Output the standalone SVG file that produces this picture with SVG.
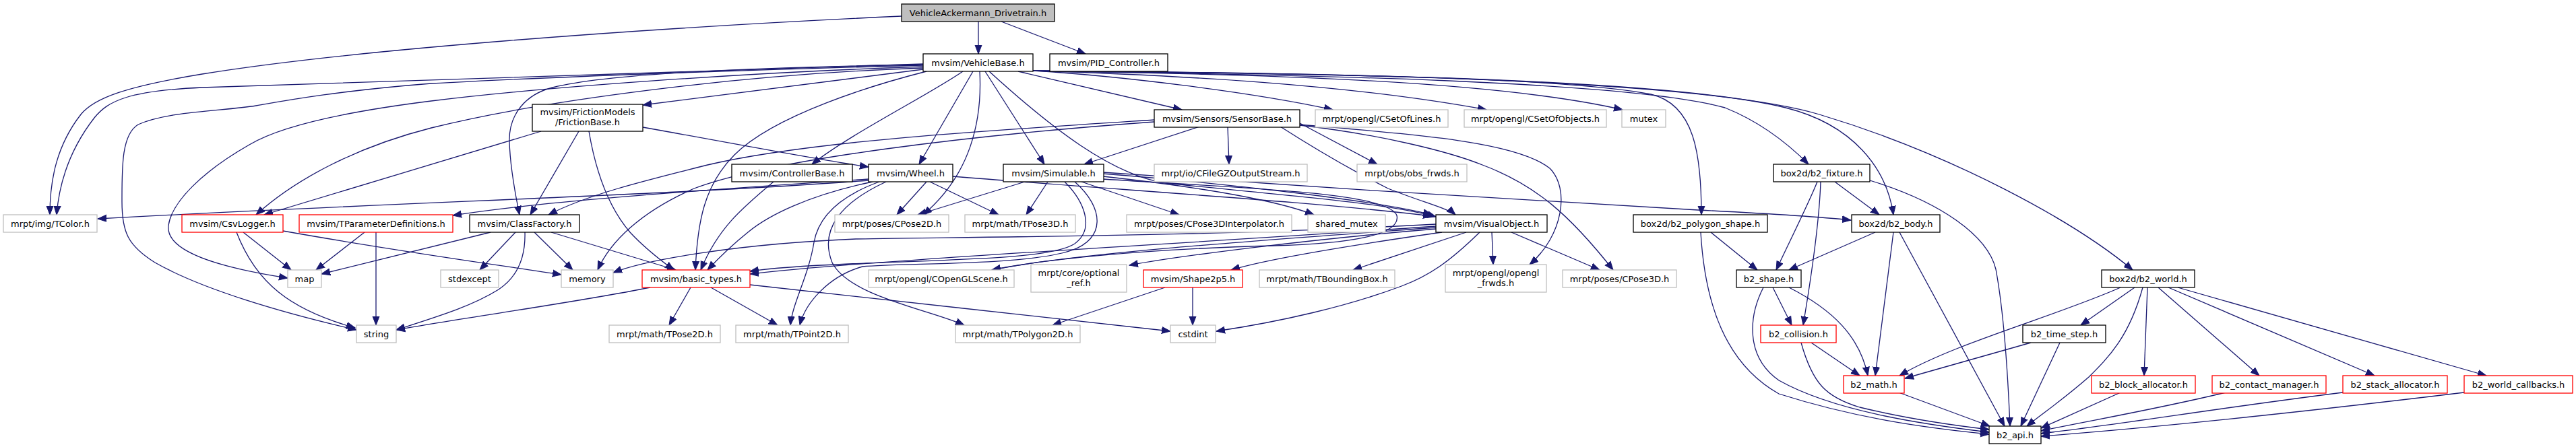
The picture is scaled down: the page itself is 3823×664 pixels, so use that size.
<svg xmlns="http://www.w3.org/2000/svg" width="3823" height="664" viewBox="0 0 3823 664">
<style>
rect{fill:#fff;stroke-width:1.3}
.g rect{stroke:#bfbfbf}
.k rect{stroke:#000}
.r rect{stroke:#ff0000}
.root rect{fill:#bfbfbf;stroke:#000}
text{font-family:"DejaVu Sans",sans-serif;font-size:13px;text-anchor:middle;fill:#000}
#edges path{fill:none;stroke:#191970;stroke-width:1.3;marker-end:url(#a)}
</style>
<defs>
<marker id="a" markerUnits="userSpaceOnUse" markerWidth="14" markerHeight="12" viewBox="0 0 14 12" refX="13" refY="6" orient="auto">
<path d="M0,1 L13,6 L0,11 z" fill="#191970" stroke="#191970"/>
</marker>
</defs>
<rect x="0" y="0" width="3823" height="664" style="fill:#fff;stroke:none"/>
<g id="edges">
<path d="M1452,32 L1452,80"/>
<path d="M1486,32 L1611,80"/>
<path d="M1338,24 C950,42 520,74 300,110 C190,128 140,145 120,170 C85,215 74,265 74,319"/>
<path d="M1370,95 C1100,105 700,114 300,130 C190,135 160,150 140,175 C105,220 88,270 84,319"/>
<path d="M1370,97 C1100,104 800,115 640,124 C500,135 420,150 380,157 C330,165 250,165 205,185 C180,200 181,250 181,300 C181,345 190,365 230,390 C300,430 420,465 529,490"/>
<path d="M1370,99 C1100,108 800,130 640,150 C520,165 420,185 370,215 C300,255 255,300 250,335 C245,375 330,398 427,413"/>
<path d="M1370,101 C1100,110 800,150 640,190 C530,218 440,265 380,319"/>
<path d="M1370,96 C1100,100 900,110 820,130 C780,140 755,170 756,210 C757,250 765,290 771,319"/>
<path d="M1370,103 L954,156"/>
<path d="M1375,106 C1300,125 1150,170 1090,230 C1045,275 1035,330 1032,401"/>
<path d="M1429,106 C1380,140 1260,200 1205,244"/>
<path d="M1444,106 L1364,244"/>
<path d="M1454,106 C1458,180 1440,260 1370,319"/>
<path d="M1462,106 L1550,244"/>
<path d="M1468,106 C1560,190 1650,260 1730,272 C1900,290 2050,300 2131,322"/>
<path d="M1511,106 L1754,163"/>
<path d="M1533,105 C1650,112 1850,135 1978,163"/>
<path d="M1533,105 C1750,112 2000,125 2206,163"/>
<path d="M1533,105 C1800,110 2200,115 2408,163"/>
<path d="M1533,105 C1800,109 2300,110 2450,140 C2515,155 2525,230 2525,319"/>
<path d="M1533,105 C1800,110 2400,115 2560,160 C2610,180 2650,210 2684,244"/>
<path d="M1533,105 C1800,108 2450,110 2650,160 C2750,185 2800,250 2810,319"/>
<path d="M1533,105 C1800,108 2500,110 2700,170 C2900,230 3080,330 3165,401"/>
<path d="M859,195 L787,319"/>
<path d="M874,195 C885,260 905,310 935,345 C960,372 985,390 1000,401"/>
<path d="M954,189 C1100,215 1200,235 1289,248"/>
<path d="M803,195 L392,319"/>
<path d="M1713,178 C1450,195 1200,210 1050,245 C950,270 870,290 814,319"/>
<path d="M1713,181 C1450,200 1150,235 1030,280 C950,315 905,360 887,401"/>
<path d="M1780,188 L1609,244"/>
<path d="M1822,188 L1824,244"/>
<path d="M1929,183 L2044,244"/>
<path d="M1929,185 C2100,200 2250,210 2300,250 C2330,280 2320,350 2270,393"/>
<path d="M1929,186 C2050,200 2150,225 2200,245 C2280,275 2330,320 2394,401"/>
<path d="M1900,188 C1950,220 2000,250 2060,280 C2110,300 2150,310 2160,319"/>
<path d="M1289,268 C1000,290 600,300 145,325"/>
<path d="M1289,266 C1000,285 800,300 672,320"/>
<path d="M1295,270 C1200,290 1140,320 1110,345 C1085,365 1065,385 1050,401"/>
<path d="M1305,270 C1250,290 1215,320 1208,360 C1200,410 1176,450 1173,483"/>
<path d="M1315,270 C1250,300 1215,340 1235,390 C1260,440 1380,460 1431,483"/>
<path d="M1375,270 L1331,319"/>
<path d="M1380,270 L1482,319"/>
<path d="M1414,262 C1700,285 1950,300 2125,321"/>
<path d="M1521,270 L1362,319"/>
<path d="M1555,270 L1523,319"/>
<path d="M1605,270 L1750,319"/>
<path d="M1580,270 C1610,300 1625,340 1595,362 C1560,385 1420,385 1260,392 C1190,395 1140,399 1113,403"/>
<path d="M1595,270 C1640,310 1640,355 1590,372 C1520,395 1350,390 1280,396 C1230,410 1195,450 1187,483"/>
<path d="M1637,262 C1800,280 1900,300 1950,319"/>
<path d="M1637,258 C1850,275 2050,300 2125,319"/>
<path d="M1637,256 C1900,275 2300,300 2520,312 C2600,316 2680,320 2747,327"/>
<path d="M1637,266 C1850,280 2060,285 2073,320 C2080,350 2000,362 1890,365 C1700,370 1550,385 1472,401"/>
<path d="M2131,336 C1800,360 1300,385 1113,407"/>
<path d="M2131,338 C1900,355 1600,375 1472,401"/>
<path d="M2131,340 C1950,355 1750,380 1676,394"/>
<path d="M2140,345 C2000,365 1880,385 1827,401"/>
<path d="M2176,345 L2008,401"/>
<path d="M2214,345 L2216,393"/>
<path d="M2243,345 L2374,401"/>
<path d="M2196,345 C2150,390 2120,410 2080,425 C2000,455 1900,478 1805,492"/>
<path d="M2131,333 C1800,352 1400,352 1270,355 C1100,362 960,385 910,405"/>
<path d="M965,427 C850,450 700,470 588,490"/>
<path d="M1025,427 L993,483"/>
<path d="M1055,427 L1154,483"/>
<path d="M1113,423 C1300,445 1550,470 1737,492"/>
<path d="M728,345 L477,407"/>
<path d="M765,345 L712,401"/>
<path d="M793,345 L850,401"/>
<path d="M818,345 L1003,401"/>
<path d="M779,345 C780,380 770,410 740,430 C700,455 650,470 588,490"/>
<path d="M351,345 C380,420 430,460 527,487"/>
<path d="M361,345 L432,401"/>
<path d="M420,343 C600,375 750,395 833,408"/>
<path d="M541,345 L469,401"/>
<path d="M558,345 L558,483"/>
<path d="M1729,427 L1562,483"/>
<path d="M1770,427 L1770,483"/>
<path d="M1148,270 C1100,310 1065,340 1040,401"/>
<path d="M2697,270 C2685,300 2665,340 2636,401"/>
<path d="M2702,270 C2700,330 2690,400 2676,483"/>
<path d="M2723,270 L2789,319"/>
<path d="M2775,268 C2880,300 2950,350 2962,400 C2975,470 2980,560 2983,633"/>
<path d="M2539,345 L2608,401"/>
<path d="M2524,345 C2530,450 2560,540 2640,585 C2750,620 2850,635 2952,645"/>
<path d="M2783,345 L2655,401"/>
<path d="M2810,345 L2783,558"/>
<path d="M2819,345 L2975,633"/>
<path d="M2631,427 L2659,483"/>
<path d="M2655,427 C2720,460 2760,500 2772,558"/>
<path d="M2617,427 C2595,470 2590,530 2640,565 C2720,610 2850,630 2952,642"/>
<path d="M2688,509 L2760,558"/>
<path d="M2673,509 C2690,570 2710,590 2760,605 C2830,622 2900,632 2952,638"/>
<path d="M2818,583 L2953,633"/>
<path d="M3014,509 L2827,562"/>
<path d="M3057,509 L2999,633"/>
<path d="M3147,427 C3050,470 2900,510 2819,558"/>
<path d="M3168,427 L3088,483"/>
<path d="M3180,427 C3160,500 3130,530 3100,560 C3060,595 3030,615 3008,633"/>
<path d="M3187,427 L3182,558"/>
<path d="M3203,427 L3353,558"/>
<path d="M3218,427 L3524,558"/>
<path d="M3232,427 L3690,558"/>
<path d="M3147,583 L3029,636"/>
<path d="M3303,583 C3200,608 3100,625 3029,640"/>
<path d="M3477,583 C3300,605 3150,630 3029,644"/>
<path d="M3657,583 C3450,608 3200,635 3029,648"/>
</g>
<g id="n0" class="root"><rect x="1338" y="6" width="227" height="26"/><text x="1451.5" y="23.5">VehicleAckermann_Drivetrain.h</text></g>
<g id="n1" class="k"><rect x="1370" y="80" width="163" height="26"/><text x="1451.5" y="97.5">mvsim/VehicleBase.h</text></g>
<g id="n2" class="k"><rect x="1558" y="80" width="175" height="26"/><text x="1645.5" y="97.5">mvsim/PID_Controller.h</text></g>
<g id="n3" class="k"><rect x="790" y="155" width="164" height="40"/><text x="872" y="171">mvsim/FrictionModels</text><text x="872" y="186">/FrictionBase.h</text></g>
<g id="n4" class="k"><rect x="1713" y="163" width="216" height="26"/><text x="1821" y="180.5">mvsim/Sensors/SensorBase.h</text></g>
<g id="n5" class="g"><rect x="1952" y="163" width="197" height="26"/><text x="2050.5" y="180.5">mrpt/opengl/CSetOfLines.h</text></g>
<g id="n6" class="g"><rect x="2173" y="163" width="211" height="26"/><text x="2278.5" y="180.5">mrpt/opengl/CSetOfObjects.h</text></g>
<g id="n7" class="g"><rect x="2407" y="163" width="65" height="26"/><text x="2439.5" y="180.5">mutex</text></g>
<g id="n8" class="k"><rect x="1086" y="244" width="179" height="26"/><text x="1175.5" y="261.5">mvsim/ControllerBase.h</text></g>
<g id="n9" class="k"><rect x="1289" y="244" width="125" height="26"/><text x="1351.5" y="261.5">mvsim/Wheel.h</text></g>
<g id="n10" class="k"><rect x="1489" y="244" width="149" height="26"/><text x="1563.5" y="261.5">mvsim/Simulable.h</text></g>
<g id="n11" class="g"><rect x="1713" y="244" width="227" height="26"/><text x="1826.5" y="261.5">mrpt/io/CFileGZOutputStream.h</text></g>
<g id="n12" class="g"><rect x="2014" y="244" width="163" height="26"/><text x="2095.5" y="261.5">mrpt/obs/obs_frwds.h</text></g>
<g id="n13" class="k"><rect x="2632" y="244" width="143" height="26"/><text x="2703.5" y="261.5">box2d/b2_fixture.h</text></g>
<g id="n14" class="g"><rect x="5" y="319" width="139" height="26"/><text x="74.5" y="336.5">mrpt/img/TColor.h</text></g>
<g id="n15" class="r"><rect x="270" y="319" width="150" height="26"/><text x="345" y="336.5">mvsim/CsvLogger.h</text></g>
<g id="n16" class="r"><rect x="444" y="319" width="228" height="26"/><text x="558" y="336.5">mvsim/TParameterDefinitions.h</text></g>
<g id="n17" class="k"><rect x="697" y="319" width="163" height="26"/><text x="778.5" y="336.5">mvsim/ClassFactory.h</text></g>
<g id="n18" class="g"><rect x="1239" y="319" width="169" height="26"/><text x="1323.5" y="336.5">mrpt/poses/CPose2D.h</text></g>
<g id="n19" class="g"><rect x="1432" y="319" width="164" height="26"/><text x="1514" y="336.5">mrpt/math/TPose3D.h</text></g>
<g id="n20" class="g"><rect x="1672" y="319" width="245" height="26"/><text x="1794.5" y="336.5">mrpt/poses/CPose3DInterpolator.h</text></g>
<g id="n21" class="g"><rect x="1941" y="319" width="115" height="26"/><text x="1998.5" y="336.5">shared_mutex</text></g>
<g id="n22" class="k"><rect x="2131" y="319" width="165" height="26"/><text x="2213.5" y="336.5">mvsim/VisualObject.h</text></g>
<g id="n23" class="k"><rect x="2424" y="319" width="199" height="26"/><text x="2523.5" y="336.5">box2d/b2_polygon_shape.h</text></g>
<g id="n24" class="k"><rect x="2748" y="319" width="131" height="26"/><text x="2813.5" y="336.5">box2d/b2_body.h</text></g>
<g id="n25" class="g"><rect x="427" y="401" width="50" height="26"/><text x="452" y="418.5">map</text></g>
<g id="n26" class="g"><rect x="654" y="401" width="86" height="26"/><text x="697" y="418.5">stdexcept</text></g>
<g id="n27" class="g"><rect x="833" y="401" width="77" height="26"/><text x="871.5" y="418.5">memory</text></g>
<g id="n28" class="r"><rect x="953" y="401" width="160" height="26"/><text x="1033" y="418.5">mvsim/basic_types.h</text></g>
<g id="n29" class="g"><rect x="1289" y="401" width="216" height="26"/><text x="1397" y="418.5">mrpt/opengl/COpenGLScene.h</text></g>
<g id="n30" class="g"><rect x="1530" y="393" width="142" height="41"/><text x="1601" y="410">mrpt/core/optional</text><text x="1601" y="425">_ref.h</text></g>
<g id="n31" class="r"><rect x="1697" y="401" width="147" height="26"/><text x="1770.5" y="418.5">mvsim/Shape2p5.h</text></g>
<g id="n32" class="g"><rect x="1869" y="401" width="201" height="26"/><text x="1969.5" y="418.5">mrpt/math/TBoundingBox.h</text></g>
<g id="n33" class="g"><rect x="2145" y="393" width="150" height="41"/><text x="2220" y="410">mrpt/opengl/opengl</text><text x="2220" y="425">_frwds.h</text></g>
<g id="n34" class="g"><rect x="2319" y="401" width="169" height="26"/><text x="2403.5" y="418.5">mrpt/poses/CPose3D.h</text></g>
<g id="n35" class="k"><rect x="2577" y="401" width="96" height="26"/><text x="2625" y="418.5">b2_shape.h</text></g>
<g id="n36" class="k"><rect x="3119" y="401" width="138" height="26"/><text x="3188" y="418.5">box2d/b2_world.h</text></g>
<g id="n37" class="g"><rect x="904" y="483" width="165" height="26"/><text x="986.5" y="500.5">mrpt/math/TPose2D.h</text></g>
<g id="n38" class="g"><rect x="1092" y="483" width="167" height="26"/><text x="1175.5" y="500.5">mrpt/math/TPoint2D.h</text></g>
<g id="n39" class="g"><rect x="529" y="483" width="59" height="26"/><text x="558.5" y="500.5">string</text></g>
<g id="n40" class="g"><rect x="1418" y="483" width="185" height="26"/><text x="1510.5" y="500.5">mrpt/math/TPolygon2D.h</text></g>
<g id="n41" class="g"><rect x="1737" y="483" width="67" height="26"/><text x="1770.5" y="500.5">cstdint</text></g>
<g id="n42" class="r"><rect x="2613" y="483" width="112" height="26"/><text x="2669" y="500.5">b2_collision.h</text></g>
<g id="n43" class="k"><rect x="3002" y="483" width="123" height="26"/><text x="3063.5" y="500.5">b2_time_step.h</text></g>
<g id="n44" class="r"><rect x="2736" y="558" width="90" height="26"/><text x="2781" y="575.5">b2_math.h</text></g>
<g id="n45" class="r"><rect x="3104" y="558" width="154" height="26"/><text x="3181" y="575.5">b2_block_allocator.h</text></g>
<g id="n46" class="r"><rect x="3283" y="558" width="169" height="26"/><text x="3367.5" y="575.5">b2_contact_manager.h</text></g>
<g id="n47" class="r"><rect x="3477" y="558" width="155" height="26"/><text x="3554.5" y="575.5">b2_stack_allocator.h</text></g>
<g id="n48" class="r"><rect x="3657" y="558" width="161" height="26"/><text x="3737.5" y="575.5">b2_world_callbacks.h</text></g>
<g id="n49" class="k"><rect x="2952" y="633" width="77" height="26"/><text x="2990.5" y="650.5">b2_api.h</text></g>
</svg>
